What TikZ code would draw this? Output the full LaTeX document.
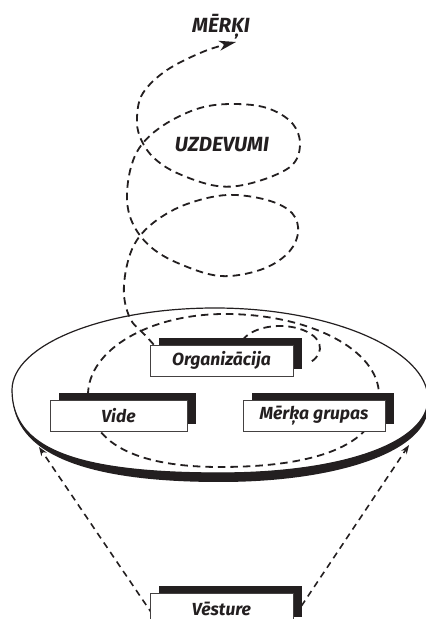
\documentclass[tikz,border=0pt]{standalone}
\usepackage{fontspec}
\newfontfamily\lblfont{Fira Sans}
\usetikzlibrary{arrows.meta,shadows,backgrounds}
\definecolor{ink}{RGB}{35,31,32}
\begin{document}
\begin{tikzpicture}[x=1pt,y=1pt,
  lbl/.style={font=\lblfont\bfseries\itshape\fontsize{17.5}{20}\selectfont, text=ink},
  head/.style={font=\lblfont\bfseries\itshape\fontsize{20.5}{22}\selectfont, text=ink},
  card/.style={lbl, draw=ink!85, line width=0.8pt, fill=white, minimum height=31pt, inner sep=0pt,
    drop shadow={shadow xshift=9pt, shadow yshift=7pt, fill=ink, opacity=1}},
  trail/.style={draw=ink, line width=1.8pt, dash pattern=on 7.5pt off 5pt},
  feed/.style={draw=ink, line width=1.6pt, dash pattern=on 6.5pt off 5pt,
    -{Stealth[length=9pt,width=6.5pt,inset=3pt]}},
  goal/.style={draw=ink, line width=1.8pt, dash pattern=on 7.5pt off 5pt,
    -{Stealth[length=17pt,width=10pt,inset=5pt]}}]
\useasboundingbox (0,0) rectangle (426,619);

% labels and cards
\node[head] (merki) at (221,592) {MĒRĶI};
\node[head] (uzd) at (222,474) {UZDEVUMI};
\node[card, minimum width=143pt] (org) at (221.5,258.5) {Organizācija};
\node[card, minimum width=137pt] (vide) at (118.5,203) {Vide};
\node[card, minimum width=142pt] (mg) at (314,203) {Mērķa grupas};
\node[card, minimum width=143pt] (vst) at (221.5,10.5) {Vēsture};

% free ends of the connectors
\coordinate (goaltip) at (236,577);
\coordinate (tipL) at (39,172);
\coordinate (tipR) at (409,174);
\coordinate (startL) at ([xshift=3pt,yshift=-6pt]vst.west);
\coordinate (startR) at ([xshift=8pt,yshift=2.5pt]vst.east);

\begin{pgfonlayer}{background}
  % the disc: thick lower rim, then its outline
  \fill[ink] (12,229) .. controls (12,171) and (74,146) .. (220,146)
    .. controls (345,146) and (428,177) .. (428,220) -- (428,212)
    .. controls (428,169) and (341,137) .. (220,137)
    .. controls (83,137) and (13,166) .. (12.5,224) -- cycle;
  \draw[ink, line width=1.2pt] (12,229) .. controls (12,274) and (103,311) .. (215,311)
    .. controls (333,311) and (428,268) .. (428,220)
    .. controls (428,177) and (345,146) .. (220,146)
    .. controls (74,146) and (12,171) .. (12,229) -- cycle;

  % large loop on the disc
  \draw[trail] (88,224) .. controls (88,269) and (149,305) .. (225,305)
    .. controls (310,305) and (379,269) .. (379,224)
    .. controls (379,177) and (323,152) .. (220,152)
    .. controls (134,152) and (88,177) .. (88,224) -- cycle;

  % small loop beside Organizācija
  \draw[trail] (280,271) ++(160:40 and 22) arc[start angle=160, end angle=-40, x radius=40, y radius=22];

  % rising spiral towards the goals
  \draw[goal] plot[smooth, tension=0.6] coordinates {
    (162,265) (146,283) (131,299) (124,324) (127,354) (137,379) (157,399) (187,415)
    (227,424) (267,419) (292,406) (298,386) (287,365) (260,349) (220,343) (180,355)
    (152,371) (134,393) (127,419) (131,452) (143,476) (167,496) (200,511) (233,515)
    (267,511) (292,496) (300,474) (290,452) (252,436) (217,433) (177,446) (153,462)
    (140,482) (137,502) (143,526) (167,549) (205,568) (goaltip)};

  % history feeding the disc
  \draw[feed] (startL) -- (tipL);
  \draw[feed] (startR) -- (tipR);
\end{pgfonlayer}
\end{tikzpicture}
\end{document}
